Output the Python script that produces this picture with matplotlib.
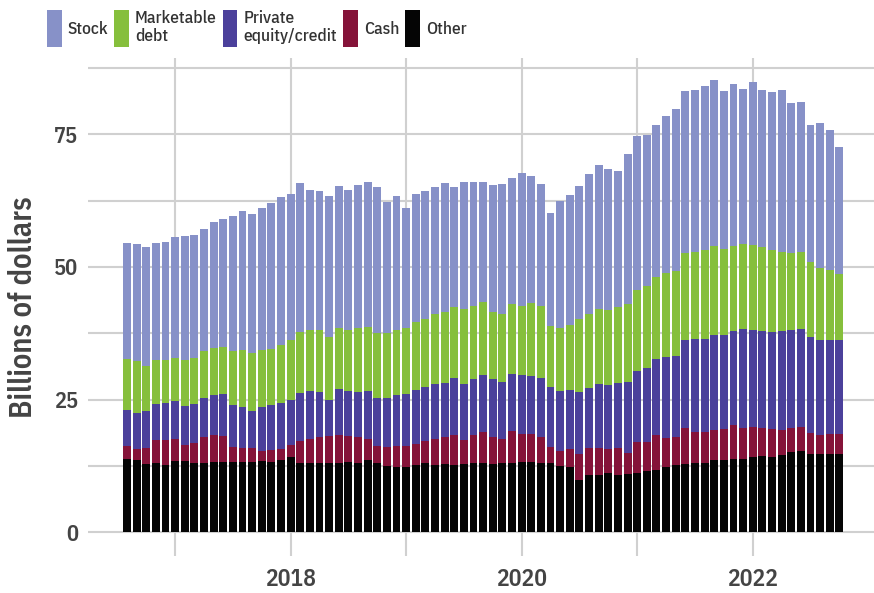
import numpy as np
import pandas as pd
import matplotlib
matplotlib.use('Agg')
import matplotlib.pyplot as plt
from matplotlib.patches import Patch

# monthly, Aug 2016 - Oct 2022 (billions of dollars)
months = pd.period_range('2016-08', '2022-10', freq='M')

other = [13.8, 13.6, 12.8, 13.0, 12.6, 13.4, 13.4, 13.0, 13.0, 13.2, 13.2, 13.3,
         13.3, 13.3, 13.4, 13.3, 13.6, 14.2, 13.1, 13.0, 13.0, 13.1, 13.1, 13.3,
         13.1, 13.6, 13.1, 12.5, 12.3, 12.3, 12.7, 13.0, 12.6, 12.8, 12.6, 12.8,
         13.0, 13.1, 12.8, 13.0, 13.0, 13.3, 13.3, 13.0, 13.0, 12.4, 12.3, 9.8,
         10.7, 10.8, 11.1, 10.7, 10.9, 11.2, 11.6, 11.7, 12.2, 12.6, 12.8, 13.0,
         13.1, 13.6, 13.6, 13.8, 13.8, 14.1, 14.3, 14.1, 14.6, 15.1, 15.3, 14.7,
         14.7, 14.7, 14.7]
cash = [2.4, 2.1, 3.0, 4.4, 4.8, 4.1, 3.1, 3.8, 4.9, 5.1, 5.0, 2.7,
        2.6, 2.6, 1.9, 2.2, 2.0, 2.2, 4.1, 4.5, 4.9, 5.1, 5.2, 4.9,
        4.8, 3.9, 3.1, 3.5, 3.9, 3.9, 4.0, 4.2, 5.0, 5.1, 5.8, 4.6,
        5.4, 5.8, 5.2, 4.6, 6.0, 5.2, 5.2, 4.9, 3.1, 2.9, 3.3, 5.0,
        5.2, 5.1, 4.5, 5.2, 4.1, 5.8, 5.4, 6.6, 5.6, 5.4, 6.9, 5.9,
        5.8, 5.7, 5.8, 6.4, 5.9, 5.7, 5.4, 5.3, 4.7, 4.6, 4.5, 4.0,
        3.6, 3.8, 3.8]
private = [6.8, 6.8, 7.0, 6.8, 7.0, 7.2, 7.3, 7.3, 7.3, 7.5, 7.9, 8.0,
           7.7, 7.0, 8.3, 8.5, 8.8, 8.6, 9.0, 9.1, 8.6, 6.8, 8.7, 8.4,
           8.6, 9.1, 9.1, 9.3, 9.6, 9.9, 10.1, 10.1, 10.3, 10.2, 10.6, 10.6,
           10.4, 10.7, 10.9, 10.7, 10.9, 11.2, 11.0, 11.2, 11.2, 11.3, 11.2, 11.7,
           11.2, 12.0, 12.1, 12.2, 13.3, 13.4, 13.9, 14.3, 15.3, 15.2, 16.5, 17.5,
           17.5, 17.9, 17.7, 17.7, 18.6, 18.3, 18.2, 18.4, 18.6, 18.5, 18.5, 18.1,
           17.9, 17.7, 17.7]
debt = [9.7, 9.7, 8.5, 8.3, 8.1, 8.2, 8.7, 8.7, 8.9, 8.9, 8.9, 10.1,
        10.7, 10.8, 10.7, 10.6, 10.8, 11.3, 11.6, 11.6, 11.7, 11.8, 11.5, 11.6,
        12.0, 12.1, 12.2, 12.2, 12.4, 12.4, 12.8, 12.9, 13.2, 13.4, 13.5, 14.0,
        13.8, 13.7, 12.6, 12.9, 13.1, 13.0, 13.7, 13.6, 11.5, 11.9, 12.2, 13.6,
        14.0, 14.1, 14.2, 14.3, 14.8, 15.2, 15.6, 15.5, 15.7, 16.1, 16.5, 16.4,
        16.8, 16.7, 16.3, 16.1, 16.1, 16.1, 15.8, 15.4, 15.0, 14.5, 14.6, 14.1,
        13.6, 13.2, 12.4]
stock = [21.9, 22.1, 22.4, 22.0, 22.3, 22.7, 23.4, 23.3, 23.1, 23.7, 24.1, 25.5,
         26.3, 26.2, 26.9, 27.4, 27.9, 27.5, 28.1, 26.4, 26.2, 26.5, 26.7, 26.4,
         27.0, 27.3, 27.5, 24.8, 25.1, 22.6, 24.2, 24.1, 23.9, 24.3, 22.5, 24.1,
         23.4, 22.7, 23.9, 24.4, 23.7, 25.0, 24.0, 22.9, 21.3, 23.9, 24.5, 25.1,
         26.5, 27.3, 26.6, 25.7, 28.2, 29.1, 28.4, 28.7, 29.6, 30.4, 30.5, 30.6,
         30.9, 31.4, 29.8, 30.5, 29.2, 30.6, 29.7, 29.7, 30.4, 28.2, 28.2, 25.9,
         27.4, 26.4, 24.1]

labels = ['Stock', 'Marketable\ndebt', 'Private\nequity/credit', 'Cash', 'Other']
colors = ['#8791c8', '#86bf3c', '#4b409b', '#851339', '#050505']

plt.rcParams['font.family'] = ['IBM Plex Sans Condensed', 'Roboto', 'DejaVu Sans']
plt.rcParams['font.weight'] = 600
text_col = '#444444'

fig = plt.figure(figsize=(8.74, 5.93), dpi=100)
ax = fig.add_axes([88/874, 37/593, 786/874, 498/593])

x = np.arange(len(months))
# stack from the bottom up: other, cash, private, debt, stock
bottom = np.zeros(len(months))
for vals, col in zip([other, cash, private, debt, stock], colors[::-1]):
    ax.bar(x, vals, bottom=bottom, width=0.82, color=col, linewidth=0, zorder=2)
    bottom += np.array(vals)

# year gridlines on january, labels every other year
jan = x[months.month == 1]
ax.set_xticks(jan, minor=True)
lab = [i for i in jan if months[i].year % 2 == 0]
ax.set_xticks(lab)
ax.set_xticklabels([str(months[i].year) for i in lab])
ax.set_xlim(-4.05, 77.6)

ax.set_yticks([0, 25, 50, 75])
ax.set_yticks([12.5, 37.5, 62.5, 87.5], minor=True)
ax.set_ylim(-4.5, 89.4)

ax.grid(True, which='both', color='#d0d0d0', linewidth=1.5)
ax.set_axisbelow(True)
for s in ax.spines.values():
    s.set_visible(False)
ax.tick_params(which='both', length=0)
ax.tick_params(axis='y', labelsize=16, labelcolor=text_col, pad=7)
ax.tick_params(axis='x', labelsize=17, labelcolor=text_col, pad=9)

ax.set_ylabel('Billions of dollars', fontsize=22, fontweight=600, color=text_col)
ax.yaxis.set_label_coords(-0.064, 0.5)

handles = [Patch(facecolor=c, edgecolor='none') for c in colors]
leg = fig.legend(handles, labels, loc='upper left', bbox_to_anchor=(47/874, 1 - 10/593),
                 ncol=5, frameon=False, fontsize=12.5, handlelength=0.84, handleheight=2.9,
                 handletextpad=0.35, columnspacing=0.35, borderpad=0, borderaxespad=0,
                 labelspacing=0, labelcolor='#333333')
for t in leg.get_texts():
    t.set_fontweight(500)
    t.set_linespacing(1.15)

fig.savefig('out.png', dpi=100)
